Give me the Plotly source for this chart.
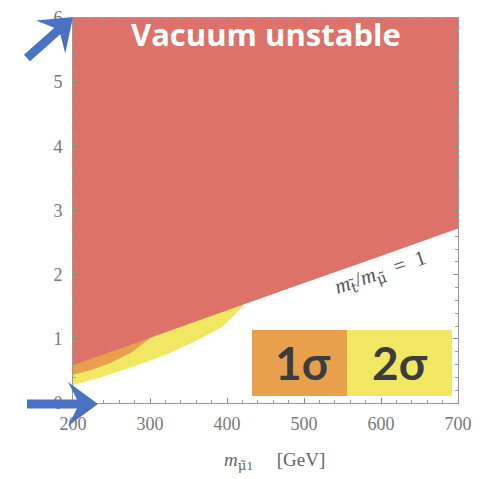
import plotly.graph_objects as go
import numpy as np

# ---- data ----
x_range = [200, 700]
y_range = [0, 6]
x_ticks = [200, 300, 400, 500, 600, 700]
y_ticks = [0, 1, 2, 3, 4, 5, 6]

# lower edge of the "vacuum unstable" region (m_t/m_mu = 1 line)
red_edge_x = [200, 300, 400, 500, 600, 700]
red_edge_y = [0.59, 1.02, 1.45, 1.87, 2.29, 2.72]
red_top = 6

# lower edge of the 2 sigma (yellow) band
yellow_low_x = [200, 233, 277, 320, 362, 393, 410, 422]
yellow_low_y = [0.28, 0.39, 0.56, 0.75, 0.98, 1.18, 1.37, 1.53]

# lower edge of the 1 sigma (orange) band
orange_low_x = [200, 225, 250, 275, 300]
orange_low_y = [0.44, 0.52, 0.63, 0.78, 1.01]

RED = "#DC7268"
ORANGE = "#E8A04C"
YELLOW = "#F1E762"
BLUE = "#4A72C2"

fig = go.Figure()

# yellow band (closed upward; the red region is painted over it)
fig.add_trace(go.Scatter(
    x=yellow_low_x + [yellow_low_x[0]],
    y=yellow_low_y + [yellow_low_y[-1]],
    fill="toself", fillcolor=YELLOW, line=dict(width=0), mode="lines",
    hoverinfo="skip", showlegend=False))
# orange band
fig.add_trace(go.Scatter(
    x=orange_low_x + [orange_low_x[0]],
    y=orange_low_y + [orange_low_y[-1]],
    fill="toself", fillcolor=ORANGE, line=dict(width=0), mode="lines",
    hoverinfo="skip", showlegend=False))
# red "vacuum unstable" region
fig.add_trace(go.Scatter(
    x=red_edge_x + [red_edge_x[-1], red_edge_x[0]],
    y=red_edge_y + [red_top, red_top],
    fill="toself", fillcolor=RED, line=dict(width=0), mode="lines",
    hoverinfo="skip", showlegend=False))

# ---- geometry helpers (page pixel -> paper) ----
PL, PT, S = 73, 18, 385  # plot left, top (page px) and size
W, H = 493, 479

def px(xp, yp):
    return (xp - PL) / S, (PT + S - yp) / S

def arrow_path(tail, tip, shaft_w=9, head_len=30, head_hw=22, notch=9):
    t = np.array(tail, float); p = np.array(tip, float)
    d = (p - t) / np.linalg.norm(p - t)
    n = np.array([-d[1], d[0]])
    base = p - d * head_len
    pts = [
        t + n * shaft_w / 2,
        base + d * notch + n * shaft_w / 2,
        base + n * head_hw,
        p,
        base - n * head_hw,
        base + d * notch - n * shaft_w / 2,
        t - n * shaft_w / 2,
    ]
    segs = []
    for i, q in enumerate(pts):
        a, b = px(q[0], q[1])
        segs.append(("M" if i == 0 else "L") + f"{a:.4f},{b:.4f}")
    return " ".join(segs) + " Z"

shapes = []
# legend boxes
x0, y0 = px(252, 396); x1, y1 = px(347, 330)
shapes.append(dict(type="rect", xref="paper", yref="paper", x0=x0, y0=y0, x1=x1, y1=y1,
                   fillcolor=ORANGE, line=dict(width=0), layer="above"))
x0, y0 = px(347, 396); x1, y1 = px(452, 330)
shapes.append(dict(type="rect", xref="paper", yref="paper", x0=x0, y0=y0, x1=x1, y1=y1,
                   fillcolor=YELLOW, line=dict(width=0), layer="above"))
# blue arrows
shapes.append(dict(type="path", xref="paper", yref="paper",
                   path=arrow_path((27, 58), (73, 17)),
                   fillcolor=BLUE, line=dict(width=0), layer="above"))
shapes.append(dict(type="path", xref="paper", yref="paper",
                   path=arrow_path((27, 404), (98, 404)),
                   fillcolor=BLUE, line=dict(width=0), layer="above"))

def note(xp, yp, text, font, angle=0):
    ax, ay = px(xp, yp)
    return dict(x=ax, y=ay, xref="paper", yref="paper", showarrow=False,
                xanchor="center", yanchor="middle", textangle=angle,
                text=text, font=font)

DJ = '<span style="font-family:DejaVu Serif">'
annotations = [
    note(266, 34, "<b>Vacuum unstable</b>", dict(family="Open Sans", size=31, color="white")),
    note(303, 362, "<b>1σ</b>", dict(family="Lato", size=46, color="#3a3c40")),
    note(400, 362, "<b>2σ</b>", dict(family="Lato", size=46, color="#3a3c40")),
    note(380, 273, f"<i>m</i><sub>{DJ}t̃</span></sub>/<i>m</i><sub>{DJ}μ̃</span></sub>  =  1",
         dict(family="Liberation Serif", size=21, color="#555555"), angle=-19),
    note(274, 461, f"<i>m</i><sub>{DJ}μ̃</span>1</sub>     [GeV]",
         dict(family="Liberation Serif", size=19, color="#666666")),
]

axis_common = dict(showline=True, mirror="ticks", linecolor="#9a9a9a", linewidth=1,
                   ticks="inside", ticklen=5, tickcolor="#888888", showgrid=False,
                   zeroline=False, automargin=False,
                   tickfont=dict(family="Liberation Serif", size=18, color="#777777"))

fig.update_layout(
    width=W, height=H,
    margin=dict(l=PL, r=W - PL - S, t=PT, b=H - PT - S),
    plot_bgcolor="white", paper_bgcolor="white",
    xaxis=dict(range=x_range, tickvals=x_ticks, ticktext=[str(v) for v in x_ticks],
               minor=dict(ticks="inside", dtick=20, ticklen=3, tickcolor="#999999"),
               ticklabelstandoff=4, **axis_common),
    yaxis=dict(range=y_range, tickvals=y_ticks, ticktext=[str(v) for v in y_ticks],
               minor=dict(ticks="inside", dtick=0.2, ticklen=3, tickcolor="#999999"),
               ticklabelstandoff=6, **axis_common),
    shapes=shapes, annotations=annotations,
)

fig.write_html("out.html", config={"displayModeBar": False},
               post_script="document.body.style.margin='0';")
